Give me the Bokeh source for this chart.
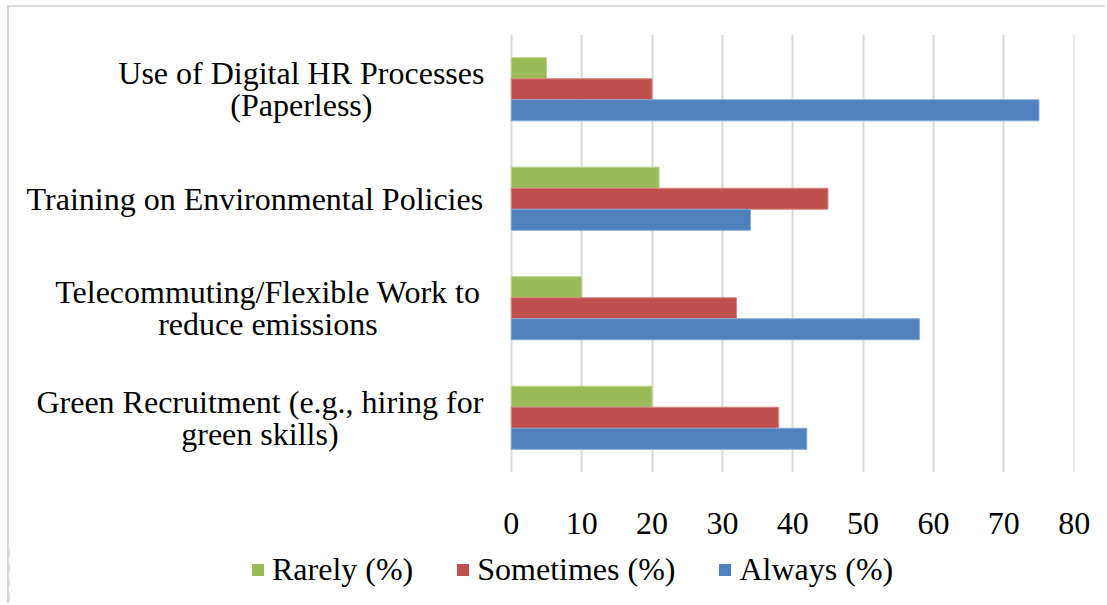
from bokeh.plotting import figure
from bokeh.layouts import column
from bokeh.models import (ColumnDataSource, FactorRange, Range1d, FixedTicker,
                          Legend, LegendItem)
from bokeh.transform import dodge
from bokeh.core.properties import value
from bokeh.embed import file_html
from bokeh.resources import INLINE

# ---- data (bottom to top as drawn) ----
categories = [
    "Green Recruitment (e.g., hiring for green skills)",
    "Telecommuting/Flexible Work to reduce emissions",
    "Training on Environmental Policies",
    "Use of Digital HR Processes (Paperless)",
]
category_labels = [
    "Green Recruitment (e.g., hiring for\ngreen skills)",
    "Telecommuting/Flexible Work to\nreduce emissions",
    "Training on Environmental Policies",
    "Use of Digital HR Processes\n(Paperless)",
]
rarely = [20, 10, 21, 5]
sometimes = [38, 32, 45, 20]
always = [42, 58, 34, 75]
x_ticks = [0, 10, 20, 30, 40, 50, 60, 70, 80]
series_names = ["Rarely (%)", "Sometimes (%)", "Always (%)"]
series_fields = ["rarely", "sometimes", "always"]

# ---- layout / style ----
FONT = "Liberation Serif"
FS = "32px"
colors = ["#9bbb59", "#c0504d", "#4f81bd"]
edges = ["#b9d08a", "#d58684", "#86a7d3"]
label_centers_x = [-35.74, -34.60, -36.45, -29.84]  # text block centres, x-data units
X_START = -71.33   # leaves room for the category labels left of 0
bh = 0.192
offsets = [bh, 0, -bh]

source = ColumnDataSource(dict(cat=categories, rarely=rarely, sometimes=sometimes,
                               always=always, lab=category_labels, lx=label_centers_x))

p = figure(width=1096, height=538, output_backend="svg", toolbar_location=None,
           x_range=Range1d(X_START, 80.05), y_range=FactorRange(factors=categories),
           min_border_left=0, min_border_right=31, min_border_top=27,
           min_border_bottom=73)
p.outline_line_color = None
p.yaxis.visible = False
p.ygrid.grid_line_color = None
p.xgrid.grid_line_color = "#d9d9d9"
p.xgrid.grid_line_width = 2
p.xaxis.ticker = FixedTicker(ticks=x_ticks)
p.xaxis.axis_line_color = None
p.xaxis.major_tick_line_color = None
p.xaxis.minor_tick_line_color = None
p.xaxis.major_label_text_font = FONT
p.xaxis.major_label_text_font_size = FS
p.xaxis.major_label_text_color = "black"
p.xaxis.major_label_standoff = 34

for f, off, c, e in zip(series_fields, offsets, colors, edges):
    p.hbar(y=dodge("cat", off, range=p.y_range), right=f, height=bh, source=source,
           fill_color=c, line_color=e, line_width=1)

p.text(x="lx", y="cat", text="lab", source=source, text_align="center",
       text_baseline="middle", text_font=value(FONT), text_font_size=FS,
       text_color="black", text_line_height=0.9)

# ---- legend strip below the chart (series drawn out of view, only the legend shows) ----
pl = figure(width=1096, height=58, output_backend="svg", toolbar_location=None,
            x_range=Range1d(1000, 1001), y_range=FactorRange(factors=categories),
            min_border_left=0, min_border_right=0, min_border_top=0, min_border_bottom=0)
pl.axis.visible = False
pl.grid.visible = False
pl.outline_line_color = None
items = []
for name, f, off, c in zip(series_names, series_fields, offsets, colors):
    r = pl.hbar(y=dodge("cat", off, range=pl.y_range), right=f, height=bh, source=source,
                fill_color=c, line_color=None)
    items.append(LegendItem(label=name, renderers=[r]))
legend = Legend(items=items, orientation="horizontal", location=(241, 15),
                glyph_width=15, glyph_height=15, label_standoff=7, spacing=42,
                padding=0, margin=0, border_line_color=None,
                background_fill_alpha=0, label_text_font=FONT,
                label_text_font_size=FS, label_text_color="black")
pl.add_layout(legend)

layout = column(p, pl, spacing=0, margin=(5, 0, 0, 7),
                styles={"border-left": "2px solid #d9d9d9",
                        "border-top": "2px solid #d9d9d9"})

open("out.html", "w").write(file_html(layout, INLINE))
